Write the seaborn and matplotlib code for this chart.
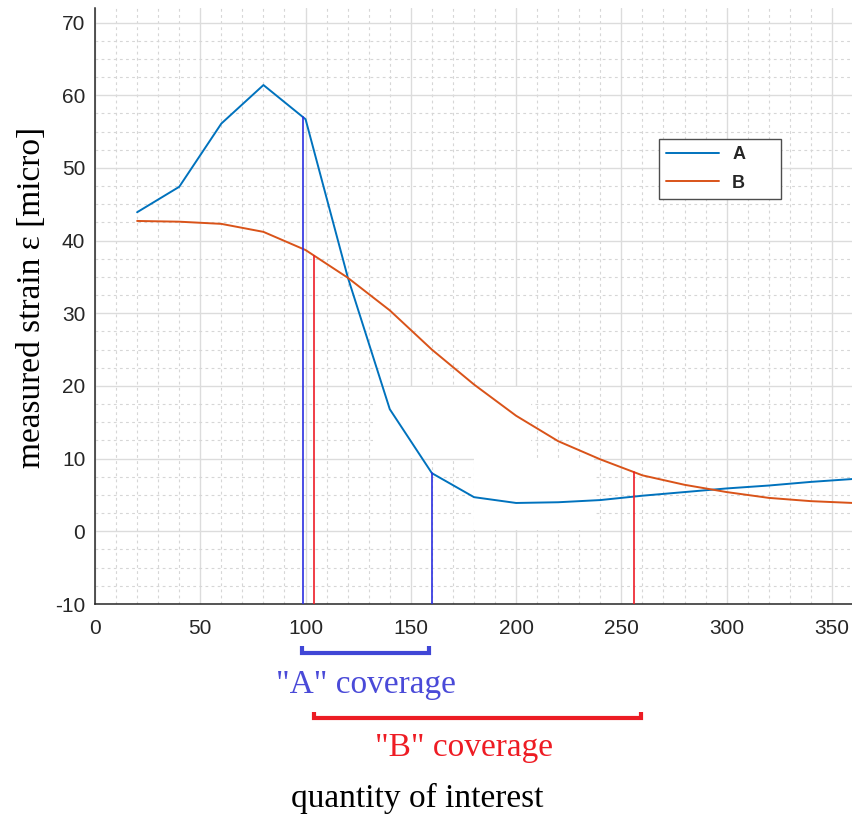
import numpy as np
import pandas as pd
import matplotlib
matplotlib.use("Agg")
import matplotlib.pyplot as plt
import matplotlib.transforms as mtransforms
from matplotlib.ticker import MultipleLocator
from matplotlib.patches import Rectangle
from matplotlib.lines import Line2D
import seaborn as sns

# ---- data -------------------------------------------------------------
x_pos = [20, 40, 60, 80, 100, 120, 140, 160, 180, 200, 220, 240,
         260, 280, 300, 320, 340, 360]
strain_a = [43.9, 47.4, 56.1, 61.4, 56.7, 35.0, 16.8, 8.0, 4.7, 3.9, 4.0, 4.3,
            4.9, 5.4, 5.9, 6.3, 6.8, 7.2]
strain_b = [42.7, 42.6, 42.3, 41.2, 38.7, 34.9, 30.4, 25.0, 20.2, 15.9, 12.4, 9.9,
            7.7, 6.4, 5.4, 4.6, 4.15, 3.9]
series_names = ["A", "B"]
series_colors = ["#0072BD", "#D95319"]

# coverage limits for each series (vertical markers) and the brackets below
coverage_a = [99, 160]
coverage_b = [104, 256]
bracket_a = [98.5, 158.5]
bracket_b = [104, 259.5]

x_ticks = [0, 50, 100, 150, 200, 250, 300, 350]
y_ticks = [-10, 0, 10, 20, 30, 40, 50, 60, 70]

df = pd.DataFrame({
    "x": x_pos * 2,
    "strain": strain_a + strain_b,
    "series": ["A"] * len(x_pos) + ["B"] * len(x_pos),
})

# ---- figure -----------------------------------------------------------
sns.set_style("white")
plt.rcParams["font.family"] = ["Liberation Sans", "DejaVu Sans"]
plt.rcParams["axes.unicode_minus"] = False

W, H = 853, 816
fig = plt.figure(figsize=(W / 100, H / 100), dpi=100)
ax = fig.add_axes([95 / W, 1 - 604 / H, 758 / W, 596 / H])

sns.lineplot(data=df, x="x", y="strain", hue="series", hue_order=series_names,
             palette=series_colors, linewidth=1.4, ax=ax, legend=False,
             estimator=None, sort=True)

ax.set_xlim(0, 360)
ax.set_ylim(-10, 72)
ax.set_xticks(x_ticks)
ax.set_yticks(y_ticks)
ax.xaxis.set_minor_locator(MultipleLocator(10))
ax.yaxis.set_minor_locator(MultipleLocator(2.5))
ax.set_xlabel("")
ax.set_ylabel("")

ax.set_axisbelow(True)
ax.grid(which="major", color="#dcdcdc", linewidth=1.0, linestyle="-")
ax.grid(which="minor", color="#d6d6d6", linewidth=0.8, linestyle=(0, (2.5, 3)))

for side in ["top", "right"]:
    ax.spines[side].set_visible(False)
for side in ["left", "bottom"]:
    ax.spines[side].set_color("#262626")
    ax.spines[side].set_linewidth(1.1)

ax.tick_params(axis="both", which="major", direction="in", length=5.5,
               width=1.0, color="#262626", labelcolor="#262626", labelsize=15)
ax.tick_params(axis="x", which="major", pad=11)
ax.tick_params(axis="y", which="major", pad=7)
ax.tick_params(axis="both", which="minor", length=0)

# blank patches over the grid in the lower middle of the plot
ax.add_patch(Rectangle((132, 10.15), 75, 9.7, facecolor="white",
                       edgecolor="none", zorder=1))
ax.add_patch(Rectangle((180, 0.15), 57, 10.0, facecolor="white",
                       edgecolor="none", zorder=1))

# coverage markers, dropped from the curves to the bottom of the axes
for xc in coverage_a:
    top = np.interp(xc, x_pos, strain_a)
    ax.plot([xc, xc], [-10, top], color="#2b2fe0", linewidth=1.2, zorder=3)
for xc in coverage_b:
    top = np.interp(xc, x_pos, strain_b)
    ax.plot([xc, xc], [-10, top], color="#ee1c28", linewidth=1.2, zorder=3)

# legend
handles = [Line2D([], [], color=c, linewidth=1.4) for c in series_colors]
leg = ax.legend(handles, series_names, loc="upper left",
                bbox_to_anchor=(0.744, 0.780, 0.161, 0.0), mode="expand",
                borderaxespad=0, frameon=True, fancybox=False,
                handlelength=2.9, handletextpad=0.75, borderpad=0.4,
                labelspacing=0.62,
                prop={"family": "Liberation Sans", "weight": "bold", "size": 13})
leg.get_frame().set_edgecolor("#4d4d4d")
leg.get_frame().set_linewidth(1.0)
leg.get_frame().set_alpha(1.0)

# brackets under the x axis (x in data units, y in figure units)
trans = mtransforms.blended_transform_factory(ax.transData, fig.transFigure)


def draw_bracket(span, bar_px, tip_px, color):
    xs = [span[0], span[0], span[1], span[1]]
    ys = [1 - tip_px / H, 1 - bar_px / H, 1 - bar_px / H, 1 - tip_px / H]
    ax.plot(xs, ys, transform=trans, clip_on=False, color=color, linewidth=3,
            solid_joinstyle="miter", solid_capstyle="butt")


draw_bracket(bracket_a, 653, 646, "#4046d6")
draw_bracket(bracket_b, 717.5, 712, "#ec1c24")

serif = ["Liberation Serif", "DejaVu Serif"]
fig.text(365.5 / W, 1 - 693.5 / H, '"A" coverage', ha="center", va="baseline",
         fontsize=24, family=serif, color="#4a4ad8")
fig.text(464 / W, 1 - 756 / H, '"B" coverage', ha="center", va="baseline",
         fontsize=24, family=serif, color="#ee1c24")
fig.text(417.5 / W, 1 - 806.5 / H, "quantity of interest", ha="center",
         va="baseline", fontsize=24, family=serif, color="black")
fig.text(32 / W, 1 - 297 / H, "measured strain \u03b5 [micro]", rotation=90,
         ha="center", va="center", fontsize=24, family=serif, color="black")

fig.savefig("out.png", dpi=100)
